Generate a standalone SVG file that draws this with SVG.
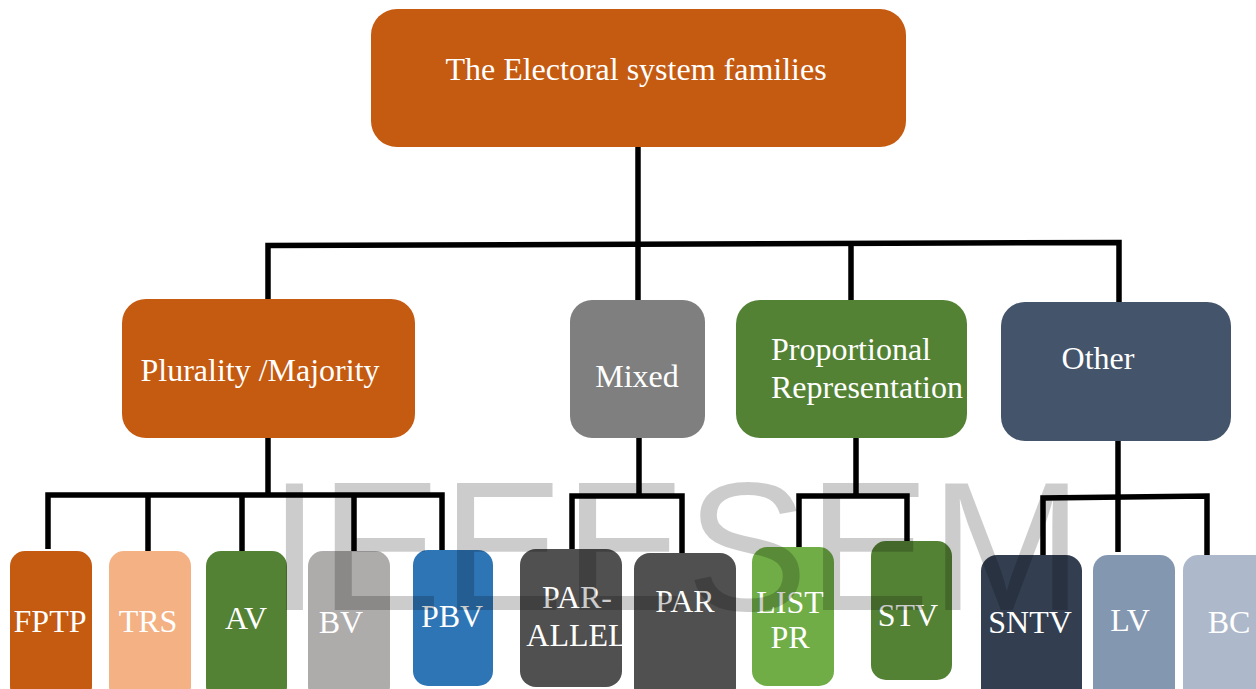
<svg xmlns="http://www.w3.org/2000/svg" width="1256" height="689" viewBox="0 0 1256 689">
<style>
.t{font-family:"Liberation Serif","Times New Roman",serif;font-size:32px;fill:#ffffff;text-anchor:middle}
.tl{font-family:"Liberation Serif","Times New Roman",serif;font-size:32px;fill:#ffffff}
.c{fill:none;stroke:#000;stroke-width:5.5;stroke-linejoin:miter}
.wm{font-family:"Liberation Sans",Arial,sans-serif;font-size:183px;fill:#000;fill-opacity:0.2}
</style>
<rect width="1256" height="689" fill="#ffffff"/>
<g id="connectors">
<path class="c" d="M638 147 V300"/>
<path class="c" d="M268 300 V245.5 L1119 242.5 V302"/>
<path class="c" d="M851 244 V300"/>
<path class="c" d="M268 438 V495"/>
<path class="c" d="M48 549 V495 H442 V550"/>
<path class="c" d="M148 495 V551 M242 495 V551 M354 495 V551"/>
<path class="c" d="M639 438 V496"/>
<path class="c" d="M572 550 V496 H682 V553"/>
<path class="c" d="M856 438 V496"/>
<path class="c" d="M799 547 V496 H907 V541"/>
<path class="c" d="M1118 441 V552"/>
<path class="c" d="M1043 555 V498 L1207 496 V555"/>
</g>
<g id="n-root"><rect x="371" y="9" width="535" height="138" rx="26" fill="#C55A11"/><text class="t" x="636" y="80">The Electoral system families</text></g>
<g id="n-plurality"><rect x="122" y="299" width="293" height="139" rx="24" fill="#C55A11"/><text class="t" x="260" y="381">Plurality /Majority</text></g>
<g id="n-mixed"><rect x="570" y="300" width="135" height="138" rx="22" fill="#7F7F7F"/><text class="t" x="637" y="387">Mixed</text></g>
<g id="n-pr"><rect x="736" y="300" width="231" height="138" rx="24" fill="#548235"/><text class="tl" x="771" y="360">Proportional</text><text class="tl" x="771" y="398">Representation</text></g>
<g id="n-other"><rect x="1001" y="302" width="230" height="139" rx="24" fill="#44546A"/><text class="t" x="1098" y="369">Other</text></g>
<g id="n-fptp"><rect x="10" y="551" width="82" height="150" rx="15" fill="#C55A11"/><text class="t" x="50" y="632">FPTP</text></g>
<g id="n-trs"><rect x="109" y="551" width="82" height="150" rx="15" fill="#F4B183"/><text class="t" x="148" y="632">TRS</text></g>
<g id="n-av"><rect x="206" y="551" width="81" height="150" rx="15" fill="#548235"/><text class="t" x="246" y="629">AV</text></g>
<g id="n-bv"><rect x="308" y="551" width="82" height="150" rx="15" fill="#AEABAB"/><text class="t" x="341" y="633">BV</text></g>
<g id="n-pbv"><rect x="413" y="550" width="80" height="136" rx="15" fill="#2E75B6"/><text class="t" x="452" y="627">PBV</text></g>
<g id="n-parallel"><rect x="520" y="549" width="102" height="138" rx="16" fill="#505050"/><text class="t" x="577" y="608">PAR-</text><text class="t" x="577" y="646">ALLEL</text></g>
<g id="n-par"><rect x="634" y="553" width="102" height="150" rx="16" fill="#505050"/><text class="t" x="685" y="612">PAR</text></g>
<g id="n-listpr"><rect x="752" y="547" width="82" height="139" rx="15" fill="#70AD47"/><text class="t" x="790" y="613">LIST</text><text class="t" x="790" y="648">PR</text></g>
<g id="n-stv"><rect x="871" y="541" width="81" height="139" rx="15" fill="#548235"/><text class="t" x="908" y="626">STV</text></g>
<g id="n-sntv"><rect x="981" y="555" width="101" height="150" rx="16" fill="#333F50"/><text class="t" x="1030" y="633">SNTV</text></g>
<g id="n-lv"><rect x="1093" y="555" width="82" height="150" rx="15" fill="#8497B0"/><text class="t" x="1130" y="631">LV</text></g>
<g id="n-bc"><rect x="1183" y="555" width="90" height="150" rx="15" fill="#ADB9CA"/><text class="t" x="1229" y="633">BC</text></g>
<text class="wm" x="269" y="610">IEEESEM</text>
</svg>
